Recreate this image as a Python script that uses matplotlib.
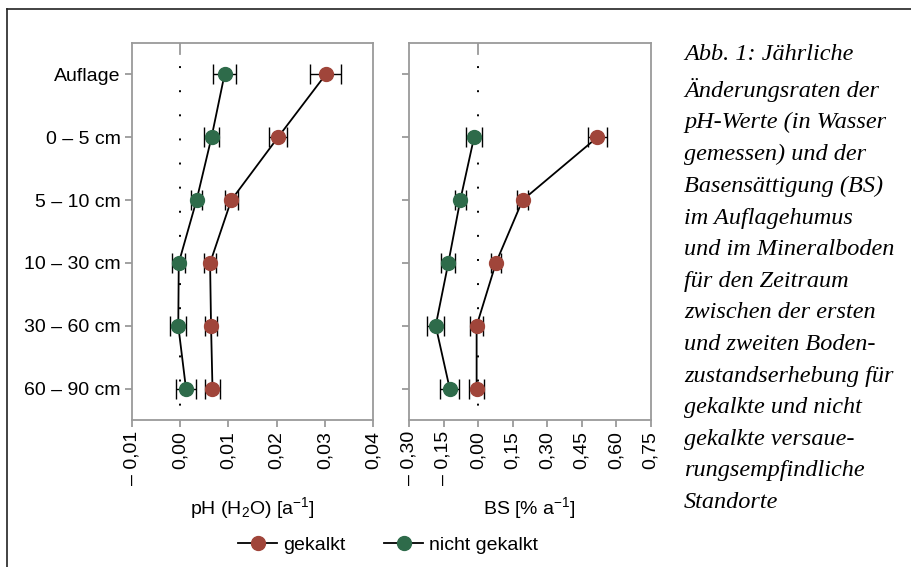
import numpy as np
import matplotlib
matplotlib.use("Agg")
import matplotlib.pyplot as plt
from matplotlib.lines import Line2D

# depth classes (top to bottom)
depths = ["Auflage", "0 – 5 cm", "5 – 10 cm", "10 – 30 cm", "30 – 60 cm", "60 – 90 cm"]

# pH (H2O) change per year
ph_kalk = [0.0302, 0.0203, 0.0106, 0.0062, 0.0064, 0.0067]
ph_kalk_err = [0.0032, 0.0019, 0.0013, 0.0012, 0.0012, 0.0015]
ph_nicht = [0.0092, 0.0065, 0.0034, -0.0003, -0.0004, 0.0012]
ph_nicht_err = [0.0024, 0.0016, 0.0011, 0.0013, 0.0017, 0.0021]

# base saturation change per year (no value for Auflage)
bs_kalk = [np.nan, 0.519, 0.194, 0.078, -0.006, -0.006]
bs_kalk_err = [np.nan, 0.041, 0.025, 0.022, 0.027, 0.031]
bs_nicht = [np.nan, -0.017, -0.077, -0.129, -0.184, -0.123]
bs_nicht_err = [np.nan, 0.034, 0.025, 0.030, 0.038, 0.042]

ph_ticks = [-0.01, 0.0, 0.01, 0.02, 0.03, 0.04]
ph_ticklabels = ["– 0,01", "0,00", "0,01", "0,02", "0,03", "0,04"]
bs_ticks = [-0.30, -0.15, 0.0, 0.15, 0.30, 0.45, 0.60, 0.75]
bs_ticklabels = ["– 0,30", "– 0,15", "0,00", "0,15", "0,30", "0,45", "0,60", "0,75"]

caption = ("Abb. 1: Jährliche\nÄnderungsraten der\npH-Werte (in Wasser\n"
           "gemessen) und der\nBasensättigung (BS)\nim Auflagehumus\n"
           "und im Mineralboden\nfür den Zeitraum\nzwischen der ersten\n"
           "und zweiten Boden-\nzustandserhebung für\ngekalkte und nicht\n"
           "gekalkte versaue-\nrungsempfindliche\nStandorte")

RED = "#a0453a"
GREEN = "#2e6b4a"
SPINE = "#9a9a9a"

plt.rcParams["font.family"] = ["Liberation Sans Narrow", "Liberation Sans", "DejaVu Sans"]
plt.rcParams["mathtext.fontset"] = "custom"
plt.rcParams["mathtext.rm"] = "Liberation Sans"
plt.rcParams["mathtext.it"] = "Liberation Sans"

fig = plt.figure(figsize=(9.11, 5.67), dpi=100)

# page frame lines (top and left)
fig.add_artist(Line2D([7 / 911, 1], [1 - 9 / 567, 1 - 9 / 567], color="#222222", lw=1.2))
fig.add_artist(Line2D([7 / 911, 7 / 911], [0, 1 - 9 / 567], color="#222222", lw=1.2))

ax1 = fig.add_axes([132 / 911, 1 - 420 / 567, 241 / 911, 377 / 567])
ax2 = fig.add_axes([409 / 911, 1 - 420 / 567, 241.5 / 911, 377 / 567])

y = np.arange(len(depths))


def draw_panel(ax, kalk, kalk_err, nicht, nicht_err, xlim, ticks, ticklabels, xlabel):
    ax.set_xlim(*xlim)
    ax.set_ylim(len(depths) - 0.5, -0.5)
    # dotted zero line and small top tick
    ax.axvline(0, color="black", lw=1.4, ls=(5, (1, 11.4)), zorder=1)
    ax.axvline(0, ymin=0.97, ymax=1, color=SPINE, lw=1.3, zorder=1)
    for vals, errs, col in [(nicht, nicht_err, GREEN), (kalk, kalk_err, RED)]:
        ax.errorbar(vals, y, xerr=errs, fmt="none", ecolor="black",
                    elinewidth=1.0, capsize=7, capthick=1.0, zorder=2)
        ax.plot(vals, y, color="black", lw=1.3, zorder=3)
        ax.plot(vals, y, "o", color=col, ms=10, mec=col, zorder=4)
    ax.set_xticks(ticks)
    ax.set_xticklabels(ticklabels, rotation=90, fontsize=14)
    ax.set_yticks(y)
    for s in ax.spines.values():
        s.set_color(SPINE)
        s.set_linewidth(1.3)
    ax.tick_params(axis="both", color=SPINE, length=5, width=1.3, pad=3)
    ax.set_xlabel(xlabel, fontsize=14, labelpad=7)


draw_panel(ax1, ph_kalk, ph_kalk_err, ph_nicht, ph_nicht_err, (-0.01, 0.04),
           ph_ticks, ph_ticklabels, r"pH (H$_2$O) [a$^{-1}$]")
ax1.set_yticklabels(depths, fontsize=14)

draw_panel(ax2, bs_kalk, bs_kalk_err, bs_nicht, bs_nicht_err, (-0.30, 0.75),
           bs_ticks, bs_ticklabels, r"BS [% a$^{-1}$]")
ax2.set_yticklabels([])

handles = [Line2D([], [], color="black", lw=1.3, marker="o", ms=10, mfc=RED, mec=RED),
           Line2D([], [], color="black", lw=1.3, marker="o", ms=10, mfc=GREEN, mec=GREEN)]
fig.legend(handles, ["gekalkt", "nicht gekalkt"], loc="center", ncol=2,
           bbox_to_anchor=(388 / 911, 1 - 545 / 567), frameon=False, fontsize=14,
           handlelength=2.0, handletextpad=0.3, columnspacing=2.0)

fig.text(684 / 911, 1 - 44 / 567, caption, ha="left", va="top", fontsize=17.5,
         family="Liberation Serif", style="italic", linespacing=1.66)

fig.savefig("out.png", dpi=100)
